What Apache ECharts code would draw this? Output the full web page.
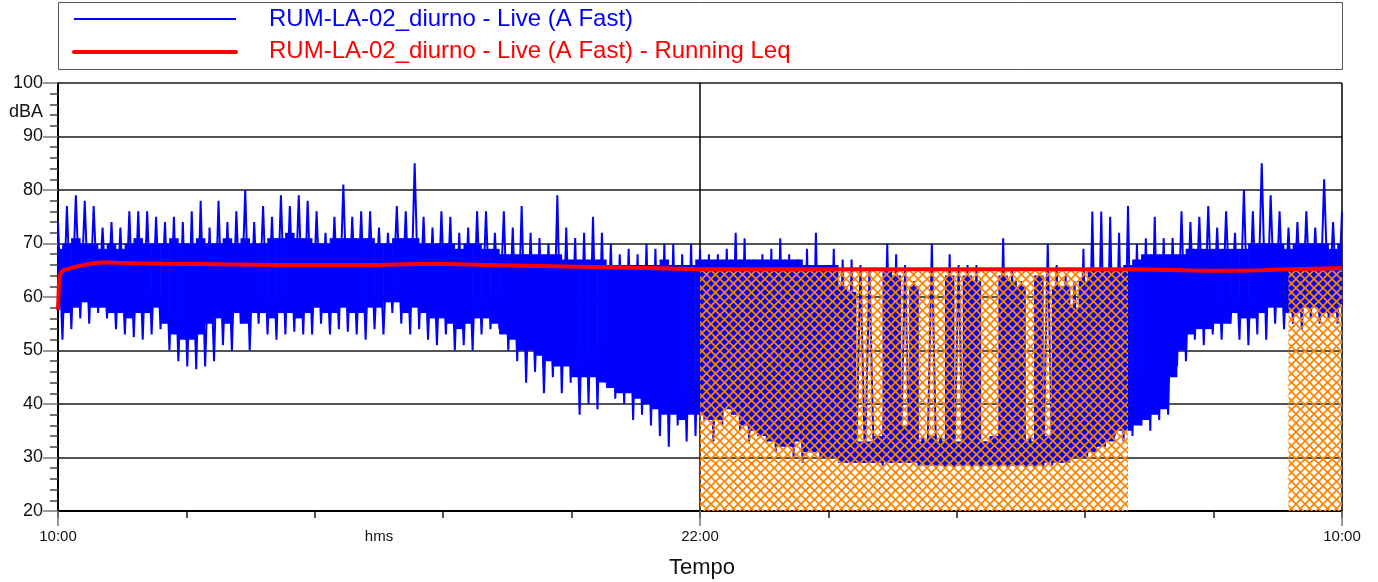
<!DOCTYPE html>
<html><head><meta charset="utf-8">
<script src="https://cdn.jsdelivr.net/npm/echarts@6/dist/echarts.min.js"></script>
<style>html,body{margin:0;padding:0;background:#fff}#chart{width:1378px;height:582px}</style>
</head><body><div id="chart"></div>
<script>
// ---- data (hours after 10:00, one sample every 10 minutes) ----
const stepHours = 1 / 6;
// spike maxima at each 10-min mark
const livePeaks = [
 74,77,79,78,77,73,
 74,73,76,76,76,75,
 74,75,74,76,78,73,
 78,74,76,80,74,77,
 75,79,77,79,78,76,
 72,75,81,75,76,76,
 73,72,77,76,85,75,
 73,76,75,72,73,76,
 76,72,76,73,77,72,
 71,70,79,73,71,72,
 75,72,70,68,69,68,
 70,69,70,70,68,70,
 69,68,68,69,72,71,
 67,68,69,71,68,67,
 69,72,66,69,67,67,
 66,65,34,70,68,66,
 63,34,70,34,68,66,
 66,66,33,34,71,65,
 63,34,64,70,66,64,
 63,69,76,76,75,72,
 77,70,71,75,71,71,
 76,74,75,77,73,76,
 72,80,76,85,79,76,
 73,74,76,73,82,74,
 76];
// spike minima, 5 minutes after each mark
const liveTroughs = [
 52,54,56,55,57,56,
 54,53,52.5,52,53,54,
 50,48,47,46.5,47,48,
 51,50,55,50,55,53,
 52,53,53.5,53,53,55,
 53,54,53.5,53,52,54,
 53,57,55,53,54,52,
 51,53,50,51,50,53,
 54,54,50,48,44,46,
 42,45,42,44,38,40,
 39,44,41,40,37,38,
 36,34,32,36,33,34,
 37,33,36,40,35,33,
 34,33,31,32,30,29,
 31,30,31,30,29,29,
 29,29,28.5,29,29,29,
 28.5,29,28.5,28,28,28.5,
 28,28,28.5,28,28,28.5,
 28,28,28,28.5,29,29.5,
 30,31,32,33,34,33,
 34,36,35,37,38,47,
 48,52,51,53,52,55,
 52,51,53,52,55,54,
 55,54,56,55,56,55];
// dense (solid) part of the live trace: top and bottom
const bandTop = [
 69,70,71,70,70,69,
 70,69,70,71,70,70,
 70,71,70,70,71,70,
 70,71,70,71,70,70,
 71,71,72,71,71,70,
 70,71,71,71,71,71,
 70,70,71,71,71,70,
 70,70,70,69,70,70,
 69,69,68,68,68,68,
 68,68,68,67,67,67,
 67,67,66,66,66,66,
 66,66,67,66,66,66,
 67,67,67,67,67,67,
 67,67,67,67,67,67,
 66,66,66,66,62,61,
 33,33,34,65,64,36,
 62,33,34,33,64,33,
 64,63,33,34,64,63,
 62,33,64,34,62,62,
 58,63,65,65,65,65,
 66,67,68,68,68,68,
 68,69,69,69,69,69,
 69,69,70,70,70,70,
 69,70,70,70,70,69,
 70];
const bandBottom = [
 58,57,58,59,58,58,
 57,57,56,57,57,58,
 55,53,52,52,53,55,
 56,55,57,55,57,57,
 56,57,57,56,57,58,
 57,57,58,57,57,58,
 58,59,59,57,58,57,
 56,56,55,54,55,56,
 56,55,53,52,50,50,
 49,48,47,47,45,45,
 45,44,43,42,42,41,
 40,39,38,38,37,38,
 38,37,37,39,38,36,
 35,34,33,32,32,33,
 31,31,30,30,29,29,
 29,29,29,29,29,29,
 29,28.5,28.5,28.5,28.5,28.5,
 28.5,28.5,28.5,28.5,28.5,28.5,
 28.5,28.5,28.5,29,29,29,
 30,30,31,32,33,35,
 35,36,37,38,39,45,
 50,53,54,54,55,55,
 57,56,56,57,58,58,
 57,57,58,58,57,57,
 58];
// running Leq
const leqTimes  = [0,0.02,0.05,0.1,0.2,0.35,0.6,0.85,1.1,1.5,2,3,4,5,6,6.5,7,7.5,8,9,10,11,12,14,16,18,20,20.5,21,21.5,22,22.5,23,23.5,24];
const leqValues = [57.6,63,64.5,65,65.3,65.7,66.2,66.5,66.4,66.3,66.2,66.1,66.0,66.0,66.0,66.1,66.2,66.1,66.0,65.8,65.6,65.4,65.2,65.2,65.2,65.2,65.2,65.1,65.0,64.9,64.9,65.0,65.2,65.3,65.4];
// hatched periods (hours after 10:00) and their level
const hatchPeriods = [[12, 20], [23, 24]];
const hatchTop = 65.0;
// vertical frame lines (hours after 10:00)
const frameLines = [12, 24];
const xLabels = {0: '10:00', 6: 'hms', 12: '22:00', 24: '10:00'};
const seriesNames = ['RUM-LA-02_diurno - Live (A Fast)', 'RUM-LA-02_diurno - Live (A Fast) - Running Leq'];

// ---- build ----
const zigzag = [];
livePeaks.forEach((v, k) => {
  zigzag.push([k * stepHours, v]);
  if (k < liveTroughs.length) zigzag.push([k * stepHours + stepHours / 2, liveTroughs[k]]);
});
const bandData = bandTop.map((v, k) => [k * stepHours, v, bandBottom[k]]);
const leqData = leqTimes.map((t, i) => [t, leqValues[i]]);
const hatchData = hatchPeriods.map(p => [p[0], p[1], hatchTop]);

const pc = document.createElement('canvas');
pc.width = 9; pc.height = 9;
const g = pc.getContext('2d');
g.strokeStyle = '#FF8400'; g.lineWidth = 1.7;
[-9, 0, 9].forEach(dx => {
  g.beginPath(); g.moveTo(dx, 0); g.lineTo(dx + 9, 9); g.stroke();
  g.beginPath(); g.moveTo(dx + 9, 0); g.lineTo(dx, 9); g.stroke();
});

const FONT = '"Liberation Sans", Arial, sans-serif';
const BLUE = '#0000FF', RED = '#FF0000';
const chart = echarts.init(document.getElementById('chart'), null, {renderer: 'canvas'});
chart.setOption({
  animation: false,
  grid: {left: 58, right: 36, top: 83, bottom: 71},
  xAxis: [{
    type: 'value', min: 0, max: 24, interval: 2.4,
    axisLine: {lineStyle: {color: '#000', width: 2}},
    axisTick: {length: 7, lineStyle: {color: '#222', width: 1.5}},
    axisLabel: {show: false}, splitLine: {show: false}
  }, {
    type: 'value', min: 0, max: 24, position: 'bottom',
    axisLine: {show: false},
    axisTick: {customValues: [0, 12, 24], length: 15, lineStyle: {color: '#777', width: 1.5}},
    axisLabel: {customValues: [0, 6, 12, 24], margin: 18, fontSize: 15, fontFamily: FONT, color: '#111',
      formatter: v => xLabels[v] !== undefined ? xLabels[v] : ''},
    splitLine: {show: false}
  }],
  yAxis: {
    type: 'value', min: 20, max: 100, interval: 10,
    axisLine: {show: true, lineStyle: {color: '#000', width: 2}},
    axisTick: {show: true, length: 15, lineStyle: {color: '#777', width: 1.5}},
    minorTick: {show: true, splitNumber: 5, length: 8, lineStyle: {color: '#444', width: 1.5}},
    axisLabel: {fontSize: 18, fontFamily: FONT, color: '#111', margin: 15},
    splitLine: {lineStyle: {color: '#1a1a1a', width: 1.5}}
  },
  series: [{
    name: 'frame', type: 'custom', z: 1, data: frameLines.map(t => [t]),
    encode: {x: 0},
    renderItem: (params, api) => {
      const a = api.coord([api.value(0), 100]);
      const b = api.coord([api.value(0), 20]);
      return {type: 'line', shape: {x1: a[0], y1: a[1], x2: b[0], y2: b[1]}, style: {stroke: '#000', lineWidth: 1.5}};
    }
  }, {
    name: seriesNames[0] + ' band', type: 'custom', z: 2, data: bandData,
    encode: {x: 0, y: [1, 2]},
    renderItem: (params, api) => {
      const t = api.value(0), h = stepHours / 2;
      const p1 = api.coord([Math.max(0, t - h), api.value(1)]);
      const p2 = api.coord([Math.min(24, t + h), api.value(2)]);
      return {type: 'rect', shape: {x: p1[0] - 0.3, y: p1[1], width: p2[0] - p1[0] + 0.6, height: p2[1] - p1[1]},
        style: {fill: BLUE}};
    }
  }, {
    name: seriesNames[0], type: 'line', z: 3, data: zigzag, symbol: 'none',
    lineStyle: {color: BLUE, width: 2}
  }, {
    name: 'hatch', type: 'custom', z: 4, data: hatchData,
    encode: {x: [0, 1], y: 2},
    renderItem: (params, api) => {
      const p1 = api.coord([api.value(0), api.value(2)]);
      const p2 = api.coord([api.value(1), 20]);
      return {type: 'rect', shape: {x: p1[0], y: p1[1], width: p2[0] - p1[0], height: p2[1] - p1[1]},
        style: {fill: {image: pc, repeat: 'repeat'}}};
    }
  }, {
    name: seriesNames[1], type: 'line', z: 5, data: leqData, symbol: 'none',
    lineStyle: {color: RED, width: 4}
  }],
  graphic: [
    {type: 'rect', shape: {x: 58.5, y: 2.5, width: 1284, height: 67}, style: {fill: '#fff', stroke: '#555', lineWidth: 1}},
    {type: 'line', shape: {x1: 74, y1: 19, x2: 236, y2: 19}, style: {stroke: BLUE, lineWidth: 2}},
    {type: 'line', shape: {x1: 74, y1: 52, x2: 236, y2: 52}, style: {stroke: RED, lineWidth: 4, lineCap: 'round'}},
    {type: 'text', x: 269, y: 19, style: {text: seriesNames[0], fill: BLUE, font: '24px ' + FONT, align: 'left', verticalAlign: 'middle'}},
    {type: 'text', x: 269, y: 51, style: {text: seriesNames[1], fill: RED, font: '24px ' + FONT, align: 'left', verticalAlign: 'middle'}},
    {type: 'text', x: 43, y: 112, style: {text: 'dBA', fill: '#111', font: '18px ' + FONT, align: 'right', verticalAlign: 'middle'}},
    {type: 'text', x: 702, y: 568, style: {text: 'Tempo', fill: '#111', font: '22px ' + FONT, align: 'center', verticalAlign: 'middle'}}
  ]
});
</script></body></html>
